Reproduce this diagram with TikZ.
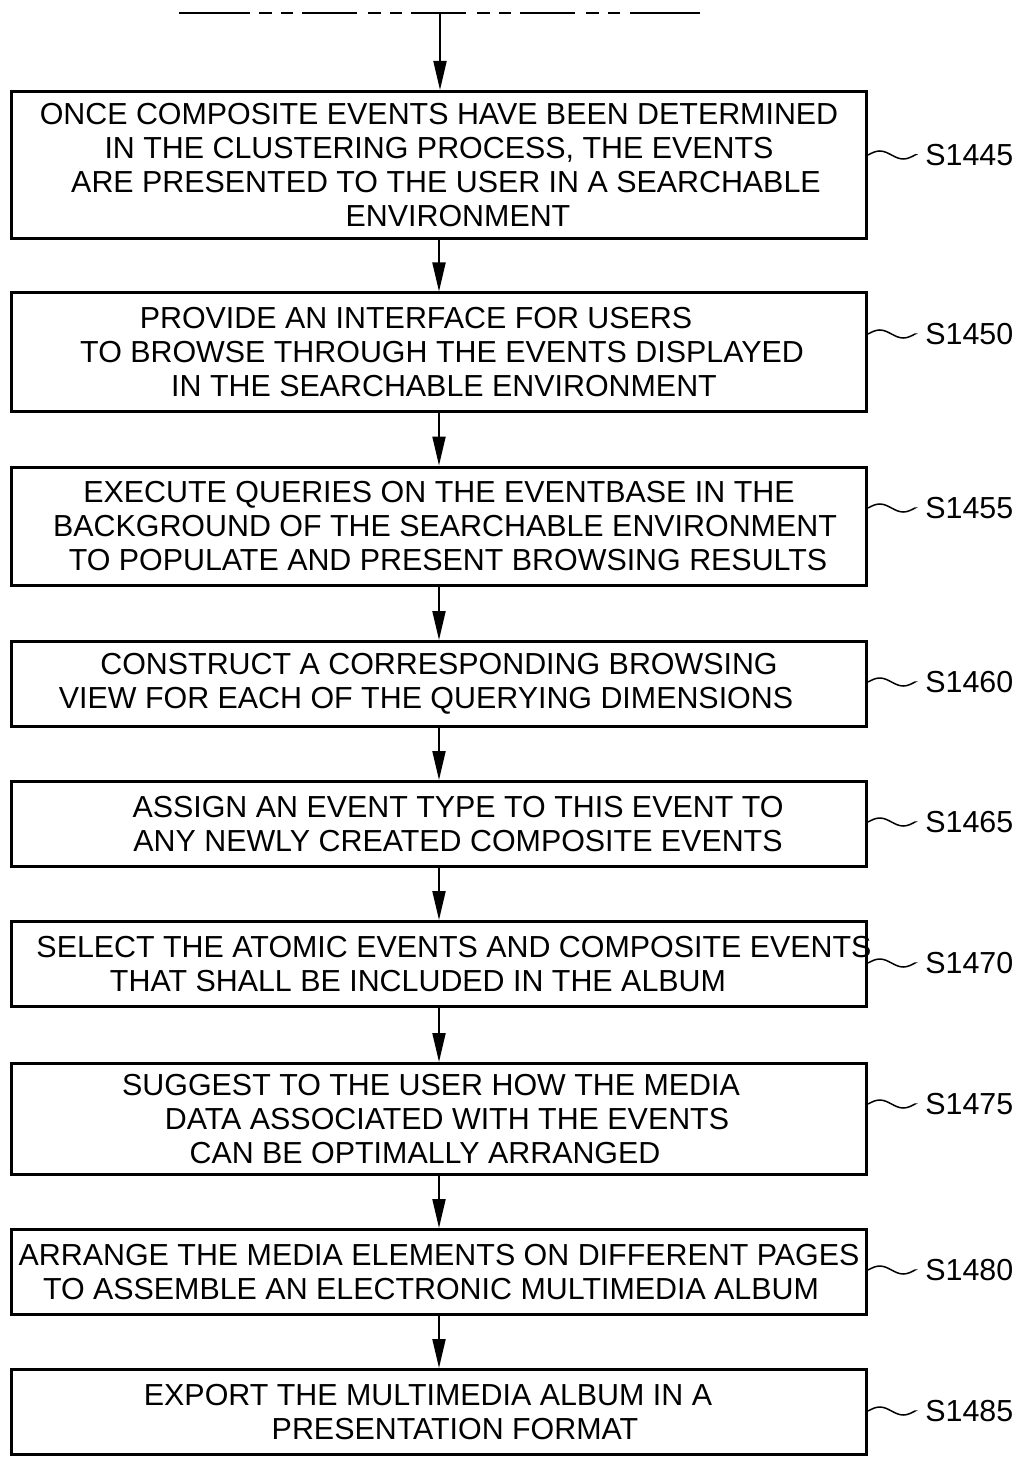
\documentclass[tikz,border=0pt]{standalone}
\usepackage{fontspec}
\setmainfont{Liberation Sans}
\usetikzlibrary{arrows.meta}
\def\wavy(#1)(#2){\draw[line width=0.3mm] (#1) sin ++(11.75,-4) cos ++(11.75,4) sin ++(11.75,4) cos ++(11.75,-4) -- (#2);}
\def\nudge#1{\hspace*{#1mm}}

\begin{document}
\begin{tikzpicture}[x=0.2mm, y=-0.2mm,
		stepbox/.style={draw, line width=0.6mm, minimum width=171mm, align=center, inner sep=0pt,
			font=\fontsize{17.3pt}{19.4pt}\selectfont},
		steplabel/.style={anchor=west, inner ysep=0pt, inner xsep=2mm, font=\fontsize{17.3pt}{19.4pt}\selectfont},
		flow/.style={line width=0.4mm, -{Triangle[length=5.8mm, width=2.6mm]}}]
		%%%%% START %%%%%
		
		\useasboundingbox (0, 0) rectangle (1017, 1457);
		
		% incoming line from the previous sheet
		\draw[line width=0.4mm] (179, 13) -- (250, 13);
		\draw[line width=0.4mm, dash pattern=on 2.6mm off 1.8mm on 2.4mm off 1.8mm on 11mm off 2.2mm] (259, 13) -- (620, 13);
		\draw[line width=0.4mm] (630, 13) -- (700, 13);
		\coordinate (top) at (440, 13);
		
		\node[stepbox, minimum height=29.4mm] (s1445) at (439, 165) {ONCE COMPOSITE EVENTS HAVE BEEN DETERMINED\\IN THE CLUSTERING PROCESS, THE EVENTS\\\nudge{2.8}ARE PRESENTED TO THE USER IN A SEARCHABLE\\\nudge{7.6}ENVIRONMENT};
		\node[stepbox, minimum height=23.6mm] (s1450) at (439, 352) {\nudge{-9.2}PROVIDE AN INTERFACE FOR USERS\\\nudge{1.2}TO BROWSE THROUGH THE EVENTS DISPLAYED\\\nudge{2}IN THE SEARCHABLE ENVIRONMENT};
		\node[stepbox, minimum height=23.6mm] (s1455) at (439, 526) {EXECUTE QUERIES ON THE EVENTBASE IN THE\\\nudge{2.4}BACKGROUND OF THE SEARCHABLE ENVIRONMENT\\\nudge{3.6}TO POPULATE AND PRESENT BROWSING RESULTS};
		\node[stepbox, minimum height=17mm] (s1460) at (439, 684) {CONSTRUCT A CORRESPONDING BROWSING\\\nudge{-5.2}VIEW FOR EACH OF THE QUERYING DIMENSIONS};
		\node[stepbox, minimum height=17mm] (s1465) at (439, 824) {\nudge{7.6}ASSIGN AN EVENT TYPE TO THIS EVENT TO\\\nudge{7.6}ANY NEWLY CREATED COMPOSITE EVENTS};
		\node[stepbox, minimum height=17mm] (s1470) at (439, 964) {\makebox[0pt]{\nudge{6}SELECT THE ATOMIC EVENTS AND COMPOSITE EVENTS}\\\nudge{-8.4}THAT SHALL BE INCLUDED IN THE ALBUM};
		\node[stepbox, minimum height=22.2mm] (s1475) at (439, 1119) {\nudge{-3.2}SUGGEST TO THE USER HOW THE MEDIA\\\nudge{3.2}DATA ASSOCIATED WITH THE EVENTS\\\nudge{-5.6}CAN BE OPTIMALLY ARRANGED};
		\node[stepbox, minimum height=17mm] (s1480) at (439, 1272) {ARRANGE THE MEDIA ELEMENTS ON DIFFERENT PAGES\\\nudge{-3.2}TO ASSEMBLE AN ELECTRONIC MULTIMEDIA ALBUM};
		\node[stepbox, minimum height=17mm] (s1485) at (439, 1412) {\nudge{-4.4}EXPORT THE MULTIMEDIA ALBUM IN A\\\nudge{6.4}PRESENTATION FORMAT};
		
		% step numbers
		\node[steplabel] (l1445) at (915, 155) {S1445};
		\node[steplabel] (l1450) at (915, 334) {S1450};
		\node[steplabel] (l1455) at (915, 508) {S1455};
		\node[steplabel] (l1460) at (915, 682) {S1460};
		\node[steplabel] (l1465) at (915, 822) {S1465};
		\node[steplabel] (l1470) at (915, 963) {S1470};
		\node[steplabel] (l1475) at (915, 1104) {S1475};
		\node[steplabel] (l1480) at (915, 1270) {S1480};
		\node[steplabel] (l1485) at (915, 1411) {S1485};
		
		\wavy(s1445.east |- l1445)(l1445.west)
		\wavy(s1450.east |- l1450)(l1450.west)
		\wavy(s1455.east |- l1455)(l1455.west)
		\wavy(s1460.east |- l1460)(l1460.west)
		\wavy(s1465.east |- l1465)(l1465.west)
		\wavy(s1470.east |- l1470)(l1470.west)
		\wavy(s1475.east |- l1475)(l1475.west)
		\wavy(s1480.east |- l1480)(l1480.west)
		\wavy(s1485.east |- l1485)(l1485.west)
		
		% arrows between the steps
		\draw[flow] (top) -- (top |- s1445.north);
		\draw[flow] (s1445) -- (s1450);
		\draw[flow] (s1450) -- (s1455);
		\draw[flow] (s1455) -- (s1460);
		\draw[flow] (s1460) -- (s1465);
		\draw[flow] (s1465) -- (s1470);
		\draw[flow] (s1470) -- (s1475);
		\draw[flow] (s1475) -- (s1480);
		\draw[flow] (s1480) -- (s1485);
		
		%%%%% END %%%%%
	\end{tikzpicture}
\end{document}
